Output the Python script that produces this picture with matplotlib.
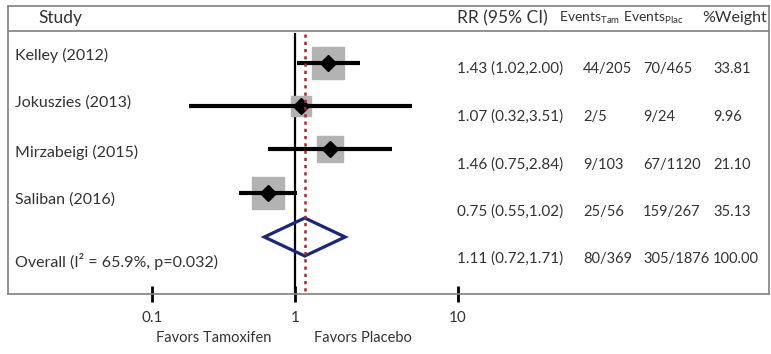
import matplotlib
matplotlib.use("Agg")
import matplotlib.pyplot as plt
from matplotlib.patches import Polygon
import numpy as np

plt.rcParams['font.family'] = ['Lato', 'DejaVu Sans']
plt.rcParams['mathtext.fontset'] = 'custom'
plt.rcParams['mathtext.rm'] = 'Lato'

# ---------------- data ----------------
studies = ["Kelley (2012)", "Jokuszies (2013)", "Mirzabeigi (2015)", "Saliban (2016)"]
rr = [1.43, 1.07, 1.46, 0.75]
ci_low = [1.02, 0.32, 0.75, 0.55]
ci_high = [2.00, 3.51, 2.84, 1.02]
events_tam = ["44/205", "2/5", "9/103", "25/56"]
events_plac = ["70/465", "9/24", "67/1120", "159/267"]
weights = [33.81, 9.96, 21.10, 35.13]

overall_label = "Overall (I² = 65.9%, p=0.032)"
overall_rr = 1.11
overall_low = 0.72
overall_high = 1.71
overall_tam = "80/369"
overall_plac = "305/1876"
overall_weight = 100.00

tick_labels = ["0.1", "1", "10"]
favors_left = "Favors Tamoxifen"
favors_right = "Favors Placebo"

# ---------------- layout (pixels) ----------------
W, H = 771, 354
box_l, box_r, box_t, box_b = 8, 769, 6, 294
x_one_px = 295          # pixel position of RR = 1
px_per_decade = 215
header_y = 31
marker_y = [63, 106, 149, 193]
overall_y = 237
label_y = [55, 103, 152, 200, 261]
num_y = [69, 117, 165, 212, 259]
tick_px = [152, 295, 458]

fig = plt.figure(figsize=(W / 100, H / 100), dpi=100)
ax = fig.add_axes([box_l / W, 1 - box_b / H, (box_r - box_l) / W, (box_b - box_t) / H])
ax.set_xscale('log')
to_val = lambda px: 10 ** ((px - x_one_px) / px_per_decade)
ax.set_xlim(to_val(box_l), to_val(box_r))
ax.set_ylim(box_b, box_t)
ax.set_yticks([])
for s in ax.spines.values():
    s.set_color('#808080')
    s.set_linewidth(1.2)
ax.axhline(header_y, color='#808080', lw=1.2)

# null line and overall line
ax.plot([1, 1], [34, 291], color='black', lw=1.6, zorder=2)
ax.plot([overall_rr, overall_rr], [34, 291], color='#a52a2a', lw=1.8,
        ls=(0, (1.3, 1.6)), zorder=5)

# study rows
for i in range(len(studies)):
    y = marker_y[i]
    ax.plot([ci_low[i], ci_high[i]], [y, y], color='black', lw=3, zorder=3,
            solid_capstyle='butt')
    size_px = 16 + 0.45 * weights[i]
    ax.plot(rr[i], y, marker='s', ms=size_px * 0.72, color='#b3b3b3',
            mec='#b3b3b3', zorder=2.5)
    ax.plot(rr[i], y, marker='D', ms=8.5, color='black', zorder=4)

# overall diamond
dh = 19
poly = Polygon([[overall_low, overall_y], [overall_rr, overall_y - dh],
                [overall_high, overall_y], [overall_rr, overall_y + dh]],
               closed=True, fill=False, edgecolor='#1c2678', lw=2.3, zorder=4)
ax.add_patch(poly)

# x ticks
ax.set_xticks([to_val(p) for p in tick_px])
ax.set_xticklabels(tick_labels)
ax.xaxis.set_minor_locator(matplotlib.ticker.NullLocator())
ax.tick_params(axis='x', direction='inout', length=12, width=2, color='black',
               labelsize=11, pad=6, labelcolor='#333333')

def ftext(x, y, s, **kw):
    fig.text(x / W, 1 - y / H, s, va='center', color='#333333', **kw)

# headers
ftext(60, 18, "Study", ha='center', fontsize=12.5)
ftext(457, 18, "RR (95% CI)", ha='left', fontsize=12.5)
ftext(559, 18, r"Events$_{\mathrm{Tam}}$", ha='left', fontsize=10)
ftext(623, 18, r"Events$_{\mathrm{Plac}}$", ha='left', fontsize=10)
ftext(702, 18, "%Weight", ha='left', fontsize=11.5)

labels = studies + [overall_label]
rr_all = rr + [overall_rr]
lo_all = ci_low + [overall_low]
hi_all = ci_high + [overall_high]
tam_all = events_tam + [overall_tam]
plac_all = events_plac + [overall_plac]
w_all = weights + [overall_weight]
for i in range(len(labels)):
    ftext(15, label_y[i], labels[i], ha='left', fontsize=11.5)
    ftext(457, num_y[i], f"{rr_all[i]:.2f} ({lo_all[i]:.2f},{hi_all[i]:.2f})",
          ha='left', fontsize=11)
    ftext(583, num_y[i], tam_all[i], ha='left', fontsize=10.5)
    ftext(643, num_y[i], plac_all[i], ha='left', fontsize=10.5)
    ftext(713, num_y[i], f"{w_all[i]:.2f}", ha='left', fontsize=10.5)

ftext(214, 338, favors_left, ha='center', fontsize=10.5)
ftext(363, 338, favors_right, ha='center', fontsize=10.5)

fig.savefig("out.png", dpi=100)
